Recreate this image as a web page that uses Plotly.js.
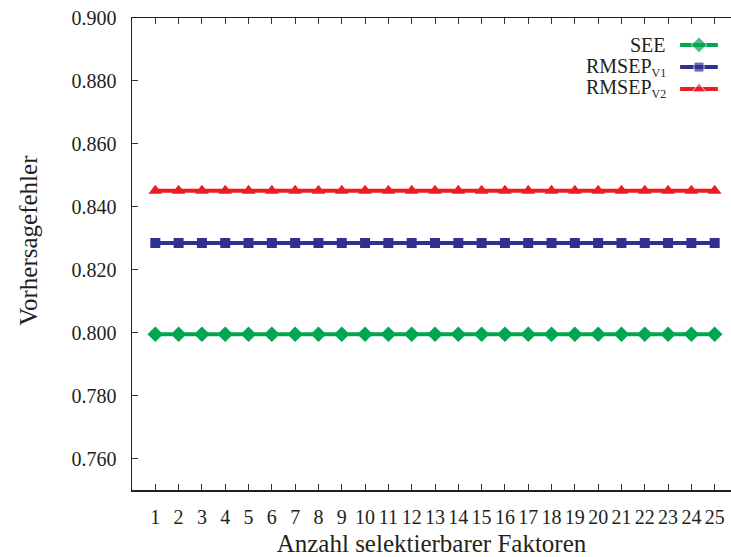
<!DOCTYPE html>
<html>
<head>
<meta charset="utf-8">
<script src="https://cdn.plot.ly/plotly-3.0.1.min.js"></script>
<style>html,body{margin:0;padding:0;overflow:hidden;background:#fff}</style>
</head>
<body>
<div id="chart" style="width:731px;height:557px"></div>
<script>
const factors = [1,2,3,4,5,6,7,8,9,10,11,12,13,14,15,16,17,18,19,20,21,22,23,24,25];
const see = [0.7995,0.7995,0.7995,0.7995,0.7995,0.7995,0.7995,0.7995,0.7995,0.7995,0.7995,0.7995,0.7995,0.7995,0.7995,0.7995,0.7995,0.7995,0.7995,0.7995,0.7995,0.7995,0.7995,0.7995,0.7995];
const rmsepV1 = [0.8285,0.8285,0.8285,0.8285,0.8285,0.8285,0.8285,0.8285,0.8285,0.8285,0.8285,0.8285,0.8285,0.8285,0.8285,0.8285,0.8285,0.8285,0.8285,0.8285,0.8285,0.8285,0.8285,0.8285,0.8285];
const rmsepV2 = [0.8451,0.8451,0.8451,0.8451,0.8451,0.8451,0.8451,0.8451,0.8451,0.8451,0.8451,0.8451,0.8451,0.8451,0.8451,0.8451,0.8451,0.8451,0.8451,0.8451,0.8451,0.8451,0.8451,0.8451,0.8451];
const yTicks = [0.76,0.78,0.80,0.82,0.84,0.86,0.88,0.90];
const yTickText = ['0.760','0.780','0.800','0.820','0.840','0.860','0.880','0.900'];
const seriesNames = ['SEE','RMSEP<sub><span style="font-size:12px">V1</span></sub>','RMSEP<sub><span style="font-size:12px">V2</span></sub>'];
const xTitle = 'Anzahl selektierbarer Faktoren';
const yTitle = 'Vorhersagefehler';

const txt = '#231f20';
const font = 'Liberation Serif, Times New Roman, serif';

const styles = [
  {color: '#00a651', symbol: 'diamond', size: 12},
  {color: '#2e3192', symbol: 'square', size: 10},
  {color: '#ed1c24', symbol: 'triangle-up', size: 12}
];
const seriesData = [see, rmsepV1, rmsepV2];

// legend placement (paper fractions of the plot area)
const legendLayout = {x0: 0.915, xm: 0.9466, x1: 0.978, textRight: 0.895, rows: [0.943, 0.896, 0.8496]};

const traces = seriesData.map((vals, i) => ({
  x: factors, y: vals, name: seriesNames[i], mode: 'lines+markers', showlegend: false,
  line: {color: styles[i].color, width: 4},
  marker: {symbol: styles[i].symbol, size: styles[i].size, color: styles[i].color}
}));

// legend samples drawn on an overlay axis spanning the plot area
seriesNames.forEach((n, i) => {
  const r = legendLayout.rows[i];
  traces.push({
    x: [legendLayout.x0, legendLayout.xm, legendLayout.x1], y: [r, r, r],
    xaxis: 'x2', yaxis: 'y2', mode: 'lines+markers', showlegend: false, hoverinfo: 'skip',
    line: {color: styles[i].color, width: 4},
    marker: {symbol: styles[i].symbol, size: [0, styles[i].size, 0], color: styles[i].color}
  });
});

const annotations = seriesNames.map((n, i) => ({
  xref: 'paper', yref: 'paper', x: legendLayout.textRight, y: legendLayout.rows[i],
  xanchor: 'right', yanchor: 'middle', text: n, showarrow: false,
  font: {family: font, size: 20, color: txt}
}));
annotations.push({
  xref: 'paper', yref: 'paper', x: -0.172, y: 0.53, xanchor: 'center', yanchor: 'middle',
  textangle: -90, text: yTitle, showarrow: false, font: {family: font, size: 25, color: txt}
});

const layout = {
  width: 731, height: 557,
  margin: {l: 132, r: 0, t: 18, b: 67},
  paper_bgcolor: '#fff', plot_bgcolor: '#fff',
  font: {family: font, color: txt, size: 20},
  showlegend: false,
  annotations: annotations,
  xaxis: {
    range: [0, 25.7], tickmode: 'array', tickvals: factors, ticktext: factors.map(String),
    ticks: 'inside', ticklen: 6, tickcolor: '#333', tickwidth: 1,
    showline: true, linecolor: '#231f20', linewidth: 1.5, mirror: 'ticks',
    showgrid: false, zeroline: false, ticklabelstandoff: 8,
    tickfont: {family: font, size: 20, color: txt},
    title: {text: xTitle, font: {family: font, size: 25, color: txt}, standoff: 11}
  },
  yaxis: {
    range: [0.75, 0.90], tickmode: 'array', tickvals: yTicks, ticktext: yTickText,
    ticks: 'inside', ticklen: 6, tickcolor: '#333', tickwidth: 1,
    showline: true, linecolor: '#231f20', linewidth: 1.5,
    showgrid: false, zeroline: false, ticklabelstandoff: 10,
    tickfont: {family: font, size: 20, color: txt}
  },
  xaxis2: {overlaying: 'x', range: [0, 1], visible: false, fixedrange: true},
  yaxis2: {overlaying: 'y', range: [0, 1], visible: false, fixedrange: true}
};

Plotly.newPlot('chart', traces, layout, {displayModeBar: false, staticPlot: true});
</script>
</body>
</html>
